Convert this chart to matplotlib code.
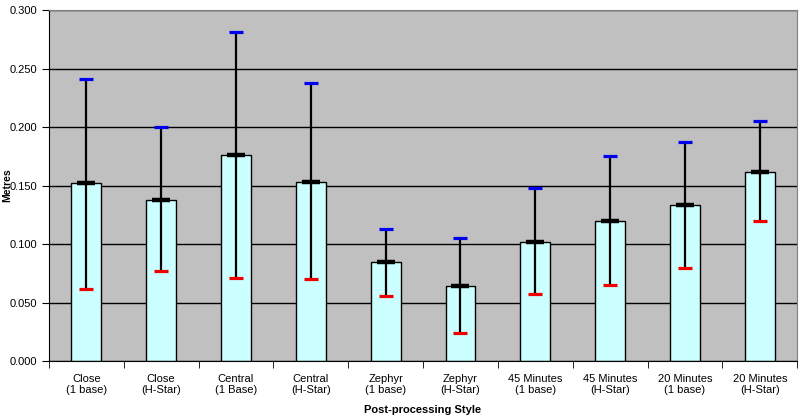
import numpy as np
import matplotlib
matplotlib.use('Agg')
import matplotlib.pyplot as plt

plt.rcParams['font.family'] = ['Liberation Sans', 'DejaVu Sans']

categories = ['Close\n(1 base)', 'Close\n(H-Star)', 'Central\n(1 Base)', 'Central\n(H-Star)',
              'Zephyr\n(1 base)', 'Zephyr\n(H-Star)', '45 Minutes\n(1 base)', '45 Minutes\n(H-Star)',
              '20 Minutes\n(1 base)', '20 Minutes\n(H-Star)']
mean_vals = [0.152, 0.138, 0.176, 0.153, 0.085, 0.064, 0.102, 0.120, 0.133, 0.162]
max_vals = [0.241, 0.200, 0.281, 0.238, 0.113, 0.105, 0.148, 0.175, 0.187, 0.205]
min_vals = [0.062, 0.077, 0.071, 0.070, 0.056, 0.024, 0.057, 0.065, 0.080, 0.120]

fig = plt.figure(figsize=(8.02, 4.18), dpi=100)
ax = fig.add_axes([0.061, 0.136, 0.933, 0.840])
ax.set_facecolor('#c0c0c0')

x = np.arange(len(categories))
ax.bar(x, mean_vals, width=0.4, color='#ccffff', edgecolor='black', linewidth=1, zorder=2)

# range lines with caps: blue = max, red = min, black = mean
ax.vlines(x, min_vals, max_vals, color='black', linewidth=1.6, zorder=3)
ax.plot(x, max_vals, linestyle='none', marker='_', markersize=9.5, mew=2.3, color='#0000ee', zorder=4)
ax.plot(x, min_vals, linestyle='none', marker='_', markersize=9.5, mew=2.3, color='#ee0000', zorder=4)
ax.plot(x, mean_vals, linestyle='none', marker='_', markersize=13, mew=3.2, color='black', zorder=4)

ax.set_xlim(-0.5, len(categories) - 0.5)
ax.set_ylim(0, 0.3)
ax.set_yticks(np.arange(0, 0.301, 0.05))
ax.set_yticklabels(['%.3f' % v for v in np.arange(0, 0.301, 0.05)], fontsize=8)
ax.yaxis.grid(True, color='black', linewidth=1)
ax.set_axisbelow(True)

ax.set_xticks(x)
ax.set_xticklabels(categories, fontsize=8)
ax.tick_params(axis='x', length=0, pad=9)
ax.set_xticks(np.arange(-0.5, len(categories)), minor=True)
ax.tick_params(axis='x', which='minor', length=5, direction='out', color='black')
ax.tick_params(axis='y', length=5, direction='out', color='black')

for s in ['top', 'right']:
    ax.spines[s].set_color('#808080')
ax.spines['left'].set_color('black')
ax.spines['bottom'].set_color('black')

ax.set_xlabel('Post-processing Style', fontsize=8, fontweight='bold', labelpad=7)
ax.set_ylabel('Metres', fontsize=7.5, fontweight='bold')
ax.yaxis.set_label_coords(-0.0495, 0.5)

fig.savefig('out.png', dpi=100)
